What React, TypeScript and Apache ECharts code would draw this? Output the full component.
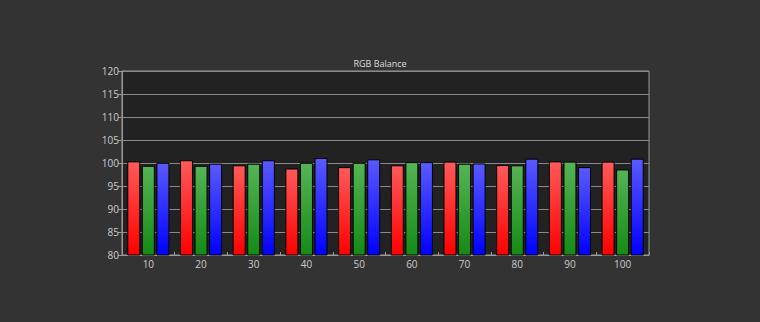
import React, { useEffect, useRef } from "react";
import * as echarts from "echarts";

const categories = ["10", "20", "30", "40", "50", "60", "70", "80", "90", "100"];
const redValues = [100.35, 100.6, 99.5, 98.8, 99.1, 99.5, 100.3, 99.55, 100.35, 100.3];
const greenValues = [99.4, 99.4, 99.85, 100.05, 100.05, 100.2, 99.85, 99.5, 100.3, 98.6];
const blueValues = [100.05, 99.85, 100.6, 101.1, 100.8, 100.2, 99.9, 100.95, 99.1, 100.95];
const yMin = 80;
const yMax = 120;
const yInterval = 5;
const title = "RGB Balance";

const grad = (top: string, bottom: string) =>
  new echarts.graphic.LinearGradient(0, 0, 0, 1, [
    { offset: 0, color: top },
    { offset: 1, color: bottom },
  ]);

export default function App() {
  const ref = useRef<HTMLDivElement>(null);
  useEffect(() => {
    if (!ref.current) return;
    const chart = echarts.init(ref.current, undefined, { renderer: "svg" });
    const font = "'Open Sans', 'DejaVu Sans', sans-serif";
    const barStyle = (top: string, bottom: string) => ({
      color: grad(top, bottom),
      borderColor: "#000",
      borderWidth: 1,
    });
    chart.setOption({
      animation: false,
      backgroundColor: "#333333",
      title: {
        text: title,
        left: "center",
        top: 54,
        textStyle: { color: "#dddddd", fontSize: 9, fontWeight: "normal", fontFamily: font },
      },
      grid: {
        left: 122,
        right: 111,
        top: 71,
        bottom: 67,
        show: true,
        backgroundColor: "#222222",
        borderColor: "#9a9a9a",
        borderWidth: 1,
      },
      xAxis: {
        type: "category",
        data: categories,
        axisLine: { show: true, lineStyle: { color: "#9a9a9a", width: 1 } },
        axisTick: { show: true, inside: true, length: 3, lineStyle: { color: "#9a9a9a" } },
        axisLabel: { color: "#cccccc", fontSize: 10, fontFamily: font, margin: 4 },
        splitLine: { show: false },
      },
      yAxis: {
        type: "value",
        min: yMin,
        max: yMax,
        interval: yInterval,
        axisLine: { show: true, lineStyle: { color: "#9a9a9a", width: 1 } },
        axisTick: { show: true, length: 4, lineStyle: { color: "#9a9a9a" } },
        axisLabel: { color: "#cccccc", fontSize: 10, fontFamily: font, margin: 3 },
        splitLine: { show: true, lineStyle: { color: "#8a8a8a", width: 1 } },
      },
      series: [
        {
          type: "bar",
          data: redValues,
          barGap: "12%",
          barCategoryGap: "20%",
          itemStyle: barStyle("#ff5a5a", "#ff0000"),
        },
        {
          type: "bar",
          data: greenValues,
          barGap: "12%",
          barCategoryGap: "20%",
          itemStyle: barStyle("#55b455", "#158a15"),
        },
        {
          type: "bar",
          data: blueValues,
          barGap: "12%",
          barCategoryGap: "20%",
          itemStyle: barStyle("#5a5aff", "#0000ff"),
        },
      ],
    });
    return () => chart.dispose();
  }, []);
  return (
    <div
      ref={ref}
      style={{ position: "fixed", left: 0, top: 0, width: 760, height: 322 }}
    />
  );
}
